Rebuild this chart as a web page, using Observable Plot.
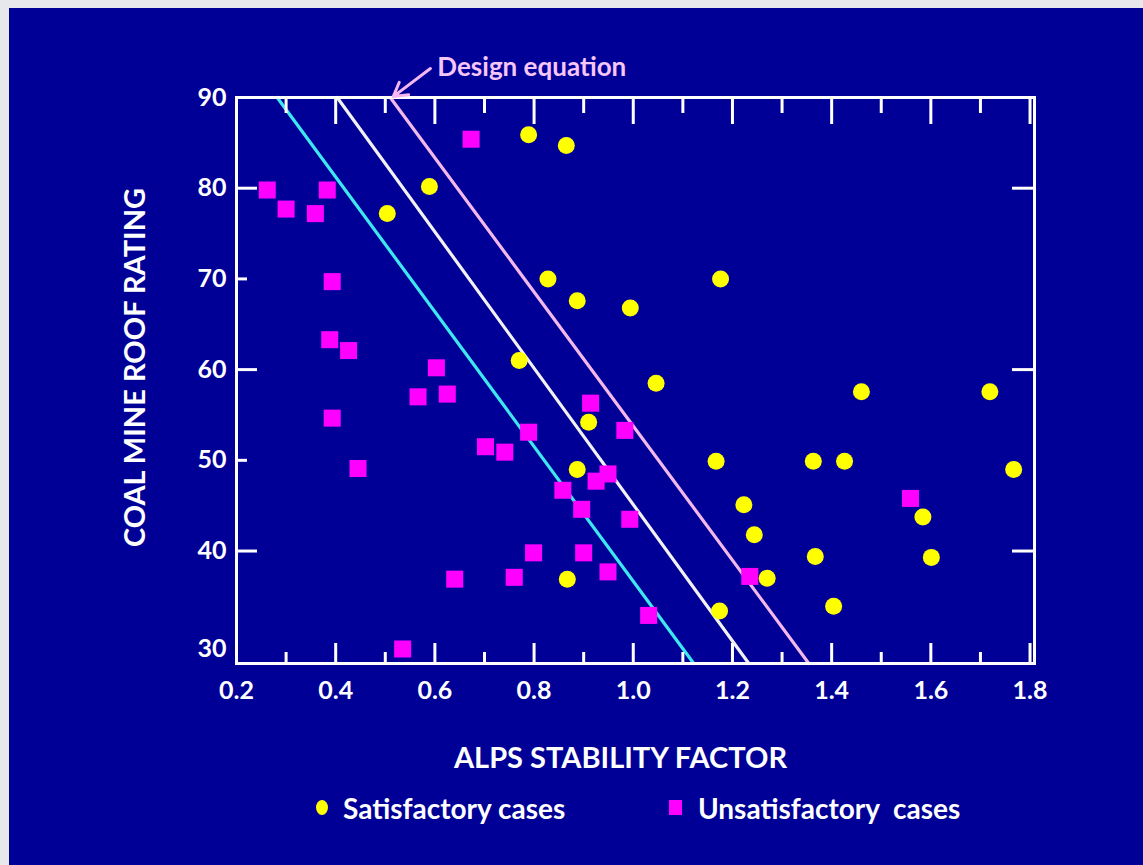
<!DOCTYPE html>
<html><head><meta charset="utf-8">
<script src="https://cdn.jsdelivr.net/npm/d3@7"></script>
<script src="https://cdn.jsdelivr.net/npm/@observablehq/plot@0.6"></script>
<style>
html,body{margin:0;padding:0;width:1143px;height:865px;overflow:hidden;background:#e6e8ec;}
#panel{position:absolute;left:9px;top:8px;width:1134px;height:857px;background:#000096;font-family:Lato,"Open Sans",sans-serif;}
#chart{position:absolute;left:0;top:0;}
.leg{position:absolute;color:#fff;font-weight:bold;font-size:28px;line-height:32px;top:784px;white-space:pre;}
.sw{position:absolute;}
</style>
</head><body>
<div id="panel">
  <div id="chart"></div>
  <div class="sw" style="left:307px;top:792px;width:12px;height:15px;border-radius:50%;background:#ffff00;"></div>
  <div class="leg" style="left:334px;">Satisfactory cases</div>
  <div class="sw" style="left:660px;top:792px;width:13px;height:15px;background:#ff00ff;"></div>
  <div class="leg" style="left:689px;">Unsatisfactory  cases</div>
</div>
<script>
// ---- data ----
const satX = [0.504,0.589,0.789,0.865,0.828,0.887,0.994,1.176,0.770,1.046,0.910,0.887,0.867,1.167,1.223,1.244,1.270,1.174,1.363,1.426,1.460,1.367,1.404,1.584,1.601,1.719,1.767];
const satY = [77.2,80.2,85.9,84.7,70.0,67.6,66.8,70.0,61.0,58.5,54.2,49.0,36.9,49.9,45.1,41.8,37.0,33.4,49.9,49.9,57.55,39.4,33.9,43.75,39.3,57.55,49.0];
const unsatX = [0.262,0.383,0.300,0.359,0.673,0.393,0.388,0.426,0.603,0.566,0.625,0.393,0.445,0.702,0.741,0.789,0.914,0.983,0.949,0.925,0.858,0.896,0.993,0.799,0.900,0.640,0.760,0.949,1.031,1.235,0.535,1.559];
const unsatY = [79.8,79.8,77.7,77.2,85.4,69.7,63.3,62.1,60.2,57.0,57.3,54.65,49.1,51.5,50.9,53.1,56.3,53.3,48.5,47.7,46.7,44.6,43.5,39.8,39.8,36.9,37.1,37.7,32.9,37.2,29.2,45.8];
const cyanLine = [[0.282,90],[1.122,27.6]];
const whiteLine = [[0.403,90],[1.233,27.6]];
const designLine = [[0.510,90],[1.354,27.6]];
const annotArrow = [{x1:0.591,y1:93.2,x2:0.516,y2:90.1}];
const annotText = [{x:0.605,y:93.3,text:"Design equation"}];
const xMajor = [0.2,0.4,0.6,0.8,1.0,1.2,1.4,1.6,1.8];
const xMinor = [0.3,0.5,0.7,0.9,1.1,1.3,1.5,1.7];
const yTicks = [40,50,60,70,80,90];
const yLongTicks = [40,60,80];
const yShortTicks = [50,70];
const yFloor = 27.6, yFloorLabel = "30";
const xDomain = [0.2,1.809], yDomain = [yFloor,90];
const xTitle = "ALPS STABILITY FACTOR";
const yTitle = "COAL MINE ROOF RATING";

const sat = satX.map((x,i)=>({x, y:satY[i]}));
const unsat = unsatX.map((x,i)=>({x, y:unsatY[i]}));

const W = 1134, H = 790, mL = 227, mR = 109, mT = 89, mB = 135;
const fW = W - mL - mR, fH = H - mT - mB;
const font = "Lato, 'Open Sans', sans-serif";

const plot = Plot.plot({
  width: W, height: H,
  marginLeft: mL, marginRight: mR, marginTop: mT, marginBottom: mB,
  x: {domain: xDomain, label: null},
  y: {domain: yDomain, label: null},
  style: {background: "transparent", color: "white", fontFamily: font, fontWeight: "bold", overflow: "visible"},
  marks: [
    Plot.line(cyanLine, {x: d=>d[0], y: d=>d[1], stroke: "#3ee6f0", strokeWidth: 3.2}),
    Plot.line(whiteLine, {x: d=>d[0], y: d=>d[1], stroke: "#f2f2f6", strokeWidth: 3.2}),
    Plot.line(designLine, {x: d=>d[0], y: d=>d[1], stroke: "#f2b8ea", strokeWidth: 3.2}),
    Plot.frame({stroke: "white", strokeWidth: 3}),
    // bottom ticks
    Plot.tickX(xMajor, {x: d=>d, stroke: "white", strokeWidth: 3, insetTop: fH - 20}),
    Plot.tickX(xMinor, {x: d=>d, stroke: "white", strokeWidth: 3, insetTop: fH - 11}),
    // top ticks
    Plot.tickX(xMajor, {x: d=>d, stroke: "white", strokeWidth: 3, insetBottom: fH - 27}),
    Plot.tickX(xMinor, {x: d=>d, stroke: "white", strokeWidth: 3, insetBottom: fH - 16}),
    // left ticks
    Plot.tickY(yLongTicks, {y: d=>d, stroke: "white", strokeWidth: 3, insetRight: fW - 21}),
    Plot.tickY(yShortTicks, {y: d=>d, stroke: "white", strokeWidth: 3, insetRight: fW - 11}),
    // right ticks
    Plot.tickY(yLongTicks, {y: d=>d, stroke: "white", strokeWidth: 3, insetLeft: fW - 22}),
    Plot.dot(unsat, {x: "x", y: "y", symbol: "square", r: 9.6, fill: "#ff00ff", stroke: "none"}),
    Plot.dot(sat, {x: "x", y: "y", r: 8.5, fill: "#ffff00", stroke: "none"}),
    Plot.axisX({ticks: xMajor, tickSize: 0, tickPadding: 18, fontSize: 25, tickFormat: d3.format(".1f"), label: null}),
    Plot.axisY({ticks: yTicks, tickSize: 0, tickPadding: 10, fontSize: 25, label: null}),
    Plot.text([yFloorLabel], {frameAnchor: "bottom-left", text: d=>d, textAnchor: "end", dx: -10, dy: -7, fontSize: 25, fill: "white"}),
    Plot.text([xTitle], {frameAnchor: "bottom", text: d=>d, dx: -15, dy: 104, fontSize: 29, fill: "white"}),
    Plot.text([yTitle], {frameAnchor: "left", text: d=>d, textAnchor: "middle", rotate: -90, dx: -101, dy: -13, fontSize: 29, fill: "white"}),
    Plot.arrow(annotArrow, {x1: "x1", y1: "y1", x2: "x2", y2: "y2", stroke: "#f6b6f0", strokeWidth: 3, headLength: 12, clip: false}),
    Plot.text(annotText, {x: "x", y: "y", text: "text", textAnchor: "start", fontSize: 26, fill: "#f6c6f6"})
  ]
});
document.getElementById("chart").appendChild(plot);
</script>
</body></html>
